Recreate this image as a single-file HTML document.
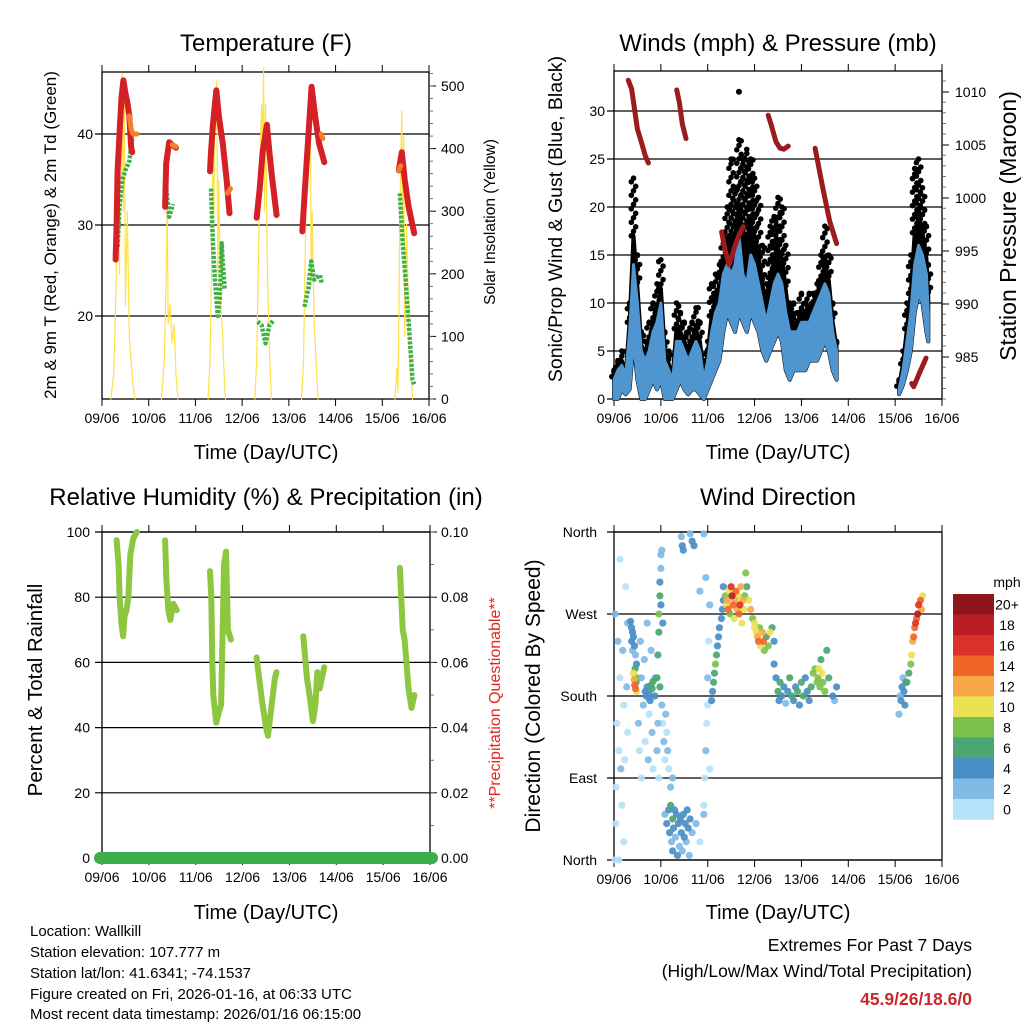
<!DOCTYPE html>
<html><head><meta charset="utf-8"><style>
html,body{margin:0;padding:0;background:#fff;}
svg{display:block;font-family:"Liberation Sans",Arial,sans-serif;}
</style></head><body>
<svg id="svg" width="1024" height="1024" viewBox="0 0 1024 1024" xmlns="http://www.w3.org/2000/svg">
<rect x="0" y="0" width="1024" height="1024" fill="#fff"/>
<g id="layer"></g>
<g font-size="24" text-anchor="middle" fill="#000">
<text x="266" y="51">Temperature (F)</text>
<text x="778" y="51">Winds (mph) &amp; Pressure (mb)</text>
<text x="266" y="505">Relative Humidity (%) &amp; Precipitation (in)</text>
<text x="778" y="505">Wind Direction</text>
</g>
<g font-size="20" text-anchor="middle" fill="#000">
<text x="266" y="459">Time (Day/UTC)</text>
<text x="778" y="459">Time (Day/UTC)</text>
<text x="266" y="919">Time (Day/UTC)</text>
<text x="778" y="919">Time (Day/UTC)</text>
<text transform="rotate(-90 56 235)" x="56" y="235" font-size="17">2m &amp; 9m T (Red, Orange) &amp; 2m Td (Green)</text>
<text transform="rotate(-90 495 222)" x="495" y="222" font-size="15.5">Solar Insolation (Yellow)</text>
<text transform="rotate(-90 562 219)" x="562" y="219" font-size="19.5">Sonic/Prop Wind &amp; Gust (Blue, Black)</text>
<text transform="rotate(-90 1016 226)" x="1016" y="226" font-size="23">Station Pressure (Maroon)</text>
<text transform="rotate(-90 42 690)" x="42" y="690" font-size="20.5">Percent &amp; Total Rainfall</text>
<text transform="rotate(-90 500 703)" x="500" y="703" font-size="16" fill="#e8231f">**Precipitation Questionable**</text>
<text transform="rotate(-90 540 696)" x="540" y="696" font-size="21">Direction (Colored By Speed)</text>
</g>
<g font-size="15" fill="#000">
<text x="30" y="936">Location: Wallkill</text>
<text x="30" y="957">Station elevation: 107.777 m</text>
<text x="30" y="978">Station lat/lon: 41.6341; -74.1537</text>
<text x="30" y="999">Figure created on Fri, 2026-01-16, at 06:33 UTC</text>
<text x="30" y="1019">Most recent data timestamp: 2026/01/16 06:15:00</text>
</g>
<g font-size="17.5" text-anchor="end">
<text x="972" y="951">Extremes For Past 7 Days</text>
<text x="972" y="977">(High/Low/Max Wind/Total Precipitation)</text>
<text x="972" y="1005" font-weight="bold" fill="#c8282d">45.9/26/18.6/0</text>
</g>
</svg>
<script>
// ---------- DATA ----------
const dayLabels=['09/06','10/06','11/06','12/06','13/06','14/06','15/06','16/06'];
const tempTicks=[20,30,40];
const solarTicks=[0,100,200,300,400,500];
const windTicks=[0,5,10,15,20,25,30];
const presTicks=[985,990,995,1000,1005,1010];
const rhTicks=[0,20,40,60,80,100];
const precipTicks=['0.00','0.02','0.04','0.06','0.08','0.10'];
const dirTicks=['North','East','South','West','North'];
const speedBins=['0','2','4','6','8','10','12','14','16','18','20+'];

const redSegT=[[7,7.5,8,9,10,11,12,13,14,15,15.5],[32.4,33,34.5,36,38],[55.5,56,57,58.7,60,62,64,65.5],[79.5,81,82.5,84.7,86,87.5,89.7],[102.9,104,105.5,107.7,109.5,111.5,114.2],[152.5,154,155.5,157.5,160.4]];
const redSegV=[[26.2,30,36,40,44,45.9,44.5,43.5,42,38.5,38],[32,36.8,39.1,38.8,38.5],[35.9,38,41,44.8,42,39,35,31.3],[30.8,34,38,41,38,35,31.1],[29.3,33,38,45.2,42,39,36.9],[36,38,35,32,29.1]];
const orangeSegT=[[14,15,16,18],[36,38],[64.5,66],[112.5,113.5],[152.5,153.5]];
const orangeSegV=[[42,40.5,40,40],[38.8,38.6],[33.5,34],[40,39.5],[36,36.5]];
const dewSegT=[[8,9,10.5,12,14,15.5],[33,34.5,36.5],[56,57,58,59.5,60.5,61.5,62,63],[80,82,84,86,88],[104,106,107.5,109,112,113],[153,154.5,156,158,159.5,160.3]];
const dewSegV=[[27.6,32,35,36,37,39.5],[34,30.9,32.3],[34,28,24,20,22,28,26,23],[19.4,19,17,19,19.5],[21,23,26,24,24.5,23.5],[33.5,28,24,18,13,12.5]];
const solarSegT=[[4.5,6,7,8,8.5,9,9.5,10,10.5,11,11.5,12,13,14,15,16,17],[30.5,32,33,33.5,34,35,36,37,38,39],[54.5,55.5,56.5,57,57.5,58,58.5,59,59.5,60,61,62,63,63.5],[78.5,79.5,80.5,81.5,82,82.5,83,83.5,84,85,86,87],[102.5,103.5,104.5,105.5,106,106.5,107,107.5,108,109,110,111],[150.5,151.5,152,152.5,153,154,154.5,155,155.5,156.5,157.5,158.5,159.5]];
const solarSegV=[[0,40,150,300,450,200,500,350,520,300,480,150,300,100,60,20,0],[0,60,200,310,120,150,90,120,40,0],[0,60,250,400,300,480,430,510,200,350,150,100,20,0],[0,60,250,420,470,380,530,300,470,200,80,0],[0,60,250,450,350,500,480,180,300,120,60,0],[0,50,10,120,300,460,250,420,100,280,120,60,0]];

const windT=[0,2,4,6,8,10,12,14,16,18,20,22,24,26,28,30,32,34,36,38,40,42,44,46,48,50,52,54,56,58,60,62,64,66,68,70,72,74,76,78,80,82,84,86,88,90,92,94,96,98,100,102,104,106,108,110,112,114,146,148,150,152,154,156,158,160,161];
const windHi=[2,3,3.5,2.5,7,14,10,5,4,5,7,8,10,4,3,2,6,6,5,4,5,6,5,2,4,7,9,10,13,14,13,14,17,13,12,15,14,12,10,8,10,12,13,12,9,7,7,7,8,8,8,9,10,11,12,11,7,5,1,3,6,9,14,16,15,13,9];
const windLo=[0,0,1,0.5,1,6,2,0,0,1,2,1,2,0,0,0,1,2,1,0.5,1,1,0.5,0,1,2,3,4,7,9,8,7,9,8,7,9,8,7,5,4,5,6,7,6,3,2,3,3,3,3,4,4,4,5,6,5,3,2,0.5,1.5,3,5,9,11,10,7,6];
const gustMax=[3,4,5,3,10,23,15,7,6,8,10,12,14.5,7,5,3,10,9,8,7,8,9.5,8,4,6,12,13,14,17,20,25,22,27,25,26,25,23,21,16,12,18,19,21,20,16,10,10,9,11,10,11,11,12,15,18,15,10,6,2,5,10,15,24,25,22,18,14];
const gustOutT=[64];
const gustOutV=[32];
const presSegT=[[7.3,9,12,14,16,17.6],[32.1,33.5,35,36.9],[55.1,57,59,62,64,66.2],[79,80.5,83,85,87,89.3],[103,107,110.5,114],[152.5,153.5,156,159.8]];
const presSegV=[[1011.1,1010.3,1006.5,1005.3,1004,1003.3],[1010.2,1009,1007,1005.6],[996.8,995,993.7,995.5,996.5,997.3],[1007.8,1006.9,1005.3,1004.7,1004.6,1004.9],[1004.7,1000.9,997.8,995.7],[982.5,982.2,983.3,984.9]];

const rhSegT=[[7.5,8.5,9,10,10.8,11.5,12.5,13.5,14.5,16,17.8],[32.3,33,34,35,36.5,38.3],[55.3,56,56.5,57,58.5,60,61,62.5,63.5,64.5,66],[79.2,80.5,82,84,85,86.5,88.5,89.4],[103.1,105,106.3,108,109.3,110.3,111.5,113.8],[152.6,154,155,157,158.5,160]];
const rhSegV=[[97.5,90,80,72,68,74,76,80,93,98,100],[97.5,85,76,73,78,76],[88,80,60,50,41.5,45,47,90,94,70,67],[61.5,55,48,40,37.5,45,55,57],[68,55,50,42,47,57,52,58.5],[89,70,67,52,46,50]];
const precipT=[0,168];
const precipV=[0,0];

const dirT=[0.5,1,1.5,2,2.5,3,3,3.5,4,4.5,5,5,5.5,6,6.5,7,7,1,2.5,0.5,
8.5,9,9,9.5,9.5,10,10.5,11,11.5,12,
10,10.3,10.6,11,11,11.3,10.8,11.6,
12.5,13,13.5,14,14,15,15.5,16,17,17.5,18,19,19.5,20,21,22,22.5,23,
16,16.5,17,17.5,18,18.5,19,19.5,20,21,
22,22.5,23,23,23.5,23.5,24,24,24.5,24,25,23.5,
24.5,25,25.5,26,26.5,27,27.5,28,29,30,
26,27,28,28.5,29,29.5,30,30,30.5,31,31.5,32,32.5,33,33.5,34,34.5,35,35.5,36,36.5,37,37.5,38,38.5,39,40,42,44,46,
34.5,35,35.5,39,40,41,46,44,
46,46.5,47,47.5,48,48.5,49,47,48,49,
50,50.5,51,51.5,52,52.5,53,53.5,54,55,55.5,56,
56,57,57.5,58,58.5,59,59.5,60,60.5,61,61.5,62,62.5,63,63.5,64,64.5,65,65.5,66,66.5,67,67.5,68,69,70,71,72,
72,73,73.5,74,74.5,75,76,76.5,77,78,79,80,81,82,
82,83,84,84.5,85,86,87,88,89,90,91,92,93,94,95,96,97,98,99,100,101,102,103,104,
104.5,105,105.5,106,106.5,107,108,109,110,112,113,114,
146,146.5,147,147.5,148,148.5,149,149.5,
150,151,152,152.5,153,153.5,154,154.5,155,155.5,156,157,157.5,158];
const dirDeg=[0,80,150,240,120,200,330,100,60,230,20,170,110,300,190,140,260,40,0,270,
262,255,240,250,230,245,235,225,215,200,
205,198,192,200,188,195,210,185,
150,120,240,200,90,170,220,130,260,110,160,230,140,100,200,120,150,90,
185,180,190,178,182,175,192,188,196,180,
200,225,250,270,290,305,320,335,340,280,260,190,
170,150,130,110,160,140,120,100,80,90,
50,40,55,30,60,20,45,10,35,55,25,50,5,40,15,45,30,10,50,25,40,20,55,35,5,45,30,40,20,50,
355,345,340,358,350,345,358,295,
60,90,120,150,200,240,280,310,170,100,
175,185,195,205,215,225,235,245,255,265,275,285,
300,290,280,285,275,295,270,300,290,280,265,285,295,275,290,270,280,300,260,285,275,290,315,300,285,275,265,255,
260,250,245,240,255,235,250,240,230,245,235,250,255,240,
215,200,185,175,195,180,190,172,185,200,180,175,190,185,170,195,180,200,185,175,190,205,210,195,
200,210,190,220,205,195,185,230,200,180,175,190,
160,180,175,190,200,185,170,195,
195,205,215,225,240,245,255,260,265,270,280,285,275,290];
const dirSpd=[1,1,0,2,1,1,0,2,1,2,1,1,0,1,2,1,2,1,0,2,
4,5,4,4,3,4,5,3,4,3,
10,12,14,9,15,7,6,11,
2,1,3,2,1,2,3,1,2,2,1,3,2,1,2,2,3,1,
4,5,4,3,5,4,6,7,6,4,
6,7,6,8,6,5,3,2,2,4,5,7,
2,1,2,1,2,1,2,1,2,3,
3,4,5,4,6,3,7,4,4,5,3,4,4,5,3,4,5,3,4,4,5,3,4,4,3,4,2,3,1,2,
2,4,4,3,4,4,2,3,
1,1,2,1,2,1,2,2,1,1,
4,5,6,7,8,6,5,4,4,5,4,4,
5,8,10,12,14,10,9,16,18,14,11,13,15,12,10,14,16,12,10,13,11,9,8,7,10,12,9,11,
10,11,12,14,9,10,12,15,8,7,9,11,6,5,
4,5,6,4,6,5,4,3,5,7,6,5,4,6,5,7,6,5,4,5,6,8,9,8,
9,10,8,7,11,9,8,7,6,4,3,4,
3,2,4,4,3,4,5,4,
6,7,8,10,12,14,15,16,14,18,16,14,12,10];
const binColors=['#b5e2f8','#80bbe5','#4a8ec6','#4aa672','#7cc14c','#e8e254','#f8a945','#f26529','#dc3128','#bb1c25','#8e161b'];

// ---------- SCALES ----------
const NS='http://www.w3.org/2000/svg';
const layer=document.getElementById('layer');
const P1={x0:102,x1:429,y0:72,y1:399},P2={x0:614,x1:942,y0:71,y1:399},P3={x0:102,x1:430,y0:532,y1:858},P4={x0:614,x1:942,y0:532,y1:860};
function X(p,t){return p.x0+t/168*(p.x1-p.x0);}
const yT=v=>225-(v-30)*9.1, ySol=v=>399-v*0.626;
const yW=v=>399-v*9.6, yP=v=>92+(1010-v)*10.6;
const yRH=v=>858-v*3.26, yPr=v=>858-v*3260;
const yDir=v=>860-v*328/360;
function mk(tag,attrs,parent){const e=document.createElementNS(NS,tag);for(const k in attrs)e.setAttribute(k,attrs[k]);(parent||layer).appendChild(e);return e;}
function grp(name){const g=mk('g',{});


return g;}

// ---------- AXES / FRAMES ----------
function frame(p,name,gridYs,tag){
  const g=grp(name+'-axes');
  gridYs.forEach(y=>{const l=mk('line',{x1:p.x0-7,x2:p.x1,y1:y,y2:y,stroke:'#000','stroke-width':1.2},g);
    
    });
  const r=mk('rect',{x:p.x0,y:p.y0,width:p.x1-p.x0,height:p.y1-p.y0,fill:'none',stroke:'#000','stroke-width':1.3},g);
  
  
  dayLabels.forEach((d,i)=>{const x=X(p,i*24);
    const tk=mk('line',{x1:x,x2:x,y1:p.y1,y2:p.y1+7,stroke:'#000','stroke-width':1},g);
    
    
    const tt=mk('line',{x1:x,x2:x,y1:p.y0,y2:p.y0-7,stroke:'#000','stroke-width':1},g);
    
    
    const t=mk('text',{x:x,y:p.y1+24,'font-size':14,'text-anchor':'middle'},g);t.textContent=d;
    
    });
  return g;
}
function leftLabels(g,p,vals,yf,tag,xr){vals.forEach((v,i)=>{const t=mk('text',{x:xr,y:yf(v,i)+5,'font-size':14,'text-anchor':'end'},g);t.textContent=v;
  
  });}
function rightLabels(g,p,vals,yf,tag,xl){vals.forEach((v,i)=>{const y=yf(v,i);
  const tk=mk('line',{x1:p.x1,x2:p.x1+7,y1:y,y2:y,stroke:'#000','stroke-width':1},g);
  
  
  const t=mk('text',{x:xl,y:y+5,'font-size':14,'text-anchor':'start'},g);t.textContent=v;
  
  });}
function minorRight(g,p,y0,step,n){for(let i=0;i<n;i++){const y=y0-i*step;if(y<p.y0||y>p.y1)continue;
  const l=mk('line',{x1:p.x1,x2:p.x1+4,y1:y,y2:y,stroke:'#555','stroke-width':0.8},g);
  
  }}

const g1=frame(P1,'temperature',tempTicks.map(yT),'p1');
leftLabels(g1,P1,tempTicks,yT,'p1',93);
rightLabels(g1,P1,solarTicks,ySol,'p1',441);
minorRight(g1,P1,399,12.52,30);
const g2=frame(P2,'winds',windTicks.map(yW),'p2');
leftLabels(g2,P2,windTicks,yW,'p2',605);
rightLabels(g2,P2,presTicks,yP,'p2',955);
minorRight(g2,P2,399,10.6,32);
const g3=frame(P3,'humidity',rhTicks.map(yRH),'p3');
leftLabels(g3,P3,rhTicks,yRH,'p3',90);
rightLabels(g3,P3,precipTicks,(v,i)=>yRH(i*20),'p3',441);
minorRight(g3,P3,858,32.6,11);
const g4=frame(P4,'wind-direction',dirTicks.map((d,i)=>yDir(i*90)),'p4');
leftLabels(g4,P4,dirTicks,(v,i)=>yDir(i*90),'p4',597);

// ---------- PANEL 1 ----------
function pline(p,T,V,yf,attrs,name,parent){const pts=T.map((t,i)=>X(p,t).toFixed(1)+','+yf(V[i]).toFixed(1)).join(' ');
  const e=mk('polyline',Object.assign({points:pts,fill:'none','stroke-linejoin':'round','stroke-linecap':'round'},attrs),parent);
  
  
  return e;}
const s1=grp('temperature-series');
solarSegT.forEach((T,k)=>pline(P1,T,solarSegV[k],ySol,{stroke:'#ffe14a','stroke-width':1.2},'solar-insolation-line',s1));
dewSegT.forEach((T,k)=>pline(P1,T,dewSegV[k],yT,{stroke:'#3db049','stroke-width':4.5,'stroke-dasharray':'3 1.5','stroke-linecap':'butt'},'dewpoint-line',s1));
redSegT.forEach((T,k)=>pline(P1,T,redSegV[k],yT,{stroke:'#d42026','stroke-width':6},'temp-2m-line',s1));
orangeSegT.forEach((T,k)=>pline(P1,T,orangeSegV[k],yT,{stroke:'#f57f2a','stroke-width':5},'temp-9m-line',s1));

// ---------- PANEL 2 ----------
const s2=grp('wind-series');
function runs(){const out=[];let cur=[0];for(let i=1;i<windT.length;i++){if(windT[i]-windT[i-1]>4){out.push(cur);cur=[];}cur.push(i);}out.push(cur);return out;}
runs().forEach(r=>{
  const bot=r.slice().reverse().map(i=>X(P2,windT[i]).toFixed(1)+','+yW(windLo[i]).toFixed(1));
  const mid=r.map(i=>X(P2,windT[i]).toFixed(1)+','+yW((windHi[i]*2+gustMax[i])/3).toFixed(1));
  const gb=mk('polygon',{points:mid.concat(bot).join(' '),fill:'#000',stroke:'#000','stroke-width':4,'stroke-linejoin':'round'},s2);
  
  
  r.forEach(i=>{const x=X(P2,windT[i]);const lo=yW((windHi[i]*2+gustMax[i])/3),hi=yW(gustMax[i]);
    let k=0;for(let y=lo;y>=hi-0.1;y-=4.5){const dx=((k%3)-1)*2.2;k++;
      const c=mk('circle',{cx:(x+dx).toFixed(1),cy:y.toFixed(1),r:2.8,fill:'#000'},s2);
      
      }
    const c2=mk('circle',{cx:x,cy:hi,r:2.8,fill:'#000'},s2);
    
    });
  const wt=r.map(i=>X(P2,windT[i]).toFixed(1)+','+yW(windHi[i]).toFixed(1));
  const wb=mk('polygon',{points:wt.concat(bot).join(' '),fill:'#4f96d0',stroke:'#4f96d0','stroke-width':3,'stroke-linejoin':'round'},s2);
  
  
});
gustOutT.forEach((t,i)=>{const c=mk('circle',{cx:X(P2,t),cy:yW(gustOutV[i]),r:3,fill:'#000'},s2);
  
  });
presSegT.forEach((T,k)=>pline(P2,T,presSegV[k],yP,{stroke:'#9b1b1e','stroke-width':5},'pressure-line',s2));

// ---------- PANEL 3 ----------
const s3=grp('humidity-series');
rhSegT.forEach((T,k)=>pline(P3,T,rhSegV[k],yRH,{stroke:'#8dc63f','stroke-width':6},'relative-humidity-line',s3));
const pr=pline(P3,precipT,precipV,yPr,{stroke:'#3cae49','stroke-width':12},'precipitation-line',s3);
pr.setAttribute('points',(P3.x0-2)+','+yPr(precipV[0])+' '+(P3.x1+2)+','+yPr(precipV[1]));

// ---------- PANEL 4 ----------
const s4=grp('wind-direction-series');
const order=dirT.map((t,i)=>i).sort((a,b)=>dirSpd[a]-dirSpd[b]);
order.forEach(i=>{const b=Math.min(10,Math.floor(dirSpd[i]/2));
  const c=mk('circle',{cx:X(P4,dirT[i]).toFixed(1),cy:yDir(dirDeg[i]).toFixed(1),r:3.6,fill:binColors[b],'fill-opacity':0.92},s4);
  
  });

// ---------- COLORBAR ----------
const cb=grp('speed-colorbar');
const cbTop=594,cbH=20.5;
const mph=mk('text',{x:1007,y:587,'font-size':14,'text-anchor':'middle'},cb);mph.textContent='mph';


speedBins.slice().reverse().forEach((lab,j)=>{const y=cbTop+j*cbH;
  const r=mk('rect',{x:953,y:y,width:41,height:cbH+0.3,fill:binColors[10-j]},cb);
  
  
  const t=mk('text',{x:1007,y:y+cbH/2+5,'font-size':14,'text-anchor':'middle'},cb);t.textContent=lab;
  
  });
</script>
</body></html>
